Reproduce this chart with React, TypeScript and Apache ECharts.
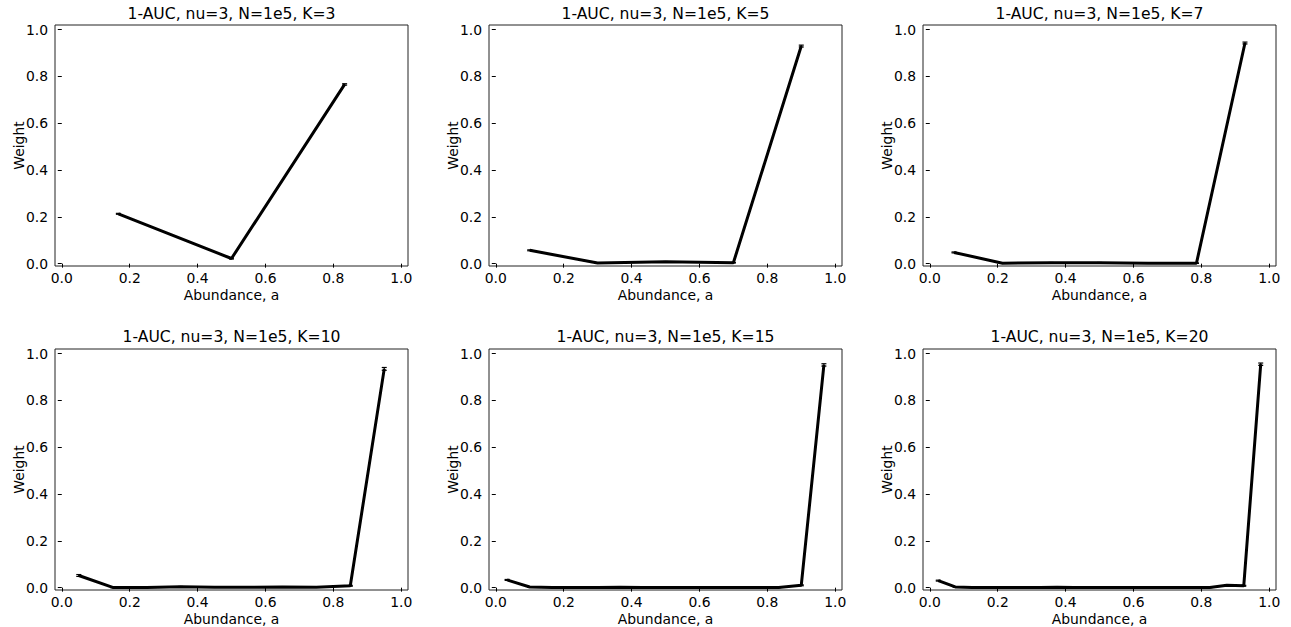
import React, { useEffect, useRef } from "react";
import * as echarts from "echarts";

const panelK = [3, 5, 7, 10, 15, 20];

const abund3 = [0.1667, 0.5, 0.8333];
const weight3 = [0.213, 0.022, 0.766];
const err3 = [0.002, 0.002, 0.003];

const abund5 = [0.1, 0.3, 0.5, 0.7, 0.9];
const weight5 = [0.057, 0.003, 0.008, 0.004, 0.93];
const err5 = [0.002, 0.001, 0.001, 0.001, 0.004];

const abund7 = [0.0714, 0.2143, 0.3571, 0.5, 0.6429, 0.7857, 0.9286];
const weight7 = [0.048, 0.002, 0.004, 0.004, 0.002, 0.002, 0.943];
const err7 = [0.002, 0.001, 0.001, 0.001, 0.001, 0.001, 0.004];

const abund10 = [0.05, 0.15, 0.25, 0.35, 0.45, 0.55, 0.65, 0.75, 0.85, 0.95];
const weight10 = [0.052, 0.001, 0.001, 0.004, 0.002, 0.002, 0.003, 0.002, 0.008, 0.935];
const err10 = [0.004, 0.001, 0.001, 0.001, 0.001, 0.001, 0.001, 0.001, 0.002, 0.006];

const abund15 = [0.0333, 0.1, 0.1667, 0.2333, 0.3, 0.3667, 0.4333, 0.5, 0.5667, 0.6333, 0.7, 0.7667, 0.8333, 0.9, 0.9667];
const weight15 = [0.033, 0.003, 0.001, 0.001, 0.001, 0.002, 0.001, 0.001, 0.001, 0.001, 0.001, 0.001, 0.001, 0.01, 0.952];
const err15 = [0.002, 0.001, 0.001, 0.001, 0.001, 0.001, 0.001, 0.001, 0.001, 0.001, 0.001, 0.001, 0.001, 0.002, 0.005];

const abund20 = [0.025, 0.075, 0.125, 0.175, 0.225, 0.275, 0.325, 0.375, 0.425, 0.475, 0.525, 0.575, 0.625, 0.675, 0.725, 0.775, 0.825, 0.875, 0.925, 0.975];
const weight20 = [0.03, 0.003, 0.001, 0.001, 0.001, 0.001, 0.001, 0.002, 0.001, 0.001, 0.001, 0.001, 0.001, 0.001, 0.001, 0.001, 0.001, 0.01, 0.008, 0.955];
const err20 = [0.002, 0.001, 0.001, 0.001, 0.001, 0.001, 0.001, 0.001, 0.001, 0.001, 0.001, 0.001, 0.001, 0.001, 0.001, 0.001, 0.001, 0.002, 0.002, 0.005];

const abundances = [abund3, abund5, abund7, abund10, abund15, abund20];
const weights = [weight3, weight5, weight7, weight10, weight15, weight20];
const errors = [err3, err5, err7, err10, err15, err20];

const tickValues = [0, 0.2, 0.4, 0.6, 0.8, 1.0];

const FONT = "DejaVu Sans";
const FS = 13.9;

export default function App() {
  const ref = useRef<HTMLDivElement>(null);
  useEffect(() => {
    if (!ref.current) return;
    const chart = echarts.init(ref.current, undefined, { renderer: "svg" });
    const lefts = [55, 489, 923];
    const tops = [25, 349];
    const gw = 353;
    const gh = 241;
    const grids: any[] = [];
    const xAxes: any[] = [];
    const yAxes: any[] = [];
    const series: any[] = [];
    const graphics: any[] = [];
    panelK.forEach((k, i) => {
      const col = i % 3;
      const row = Math.floor(i / 3);
      grids.push({
        left: lefts[col],
        top: tops[row],
        width: gw,
        height: gh,
        show: true,
        borderColor: "#222",
        borderWidth: 1,
        backgroundColor: "transparent",
      });
      xAxes.push({
        type: "value",
        gridIndex: i,
        min: -0.02,
        max: 1.02,
        name: "Abundance, a",
        nameLocation: "middle",
        nameGap: 22,
        nameMoveOverlap: false,
        nameTextStyle: { fontFamily: FONT, fontSize: FS, color: "#000" },
        axisLine: { show: false },
        splitLine: { show: false },
        axisTick: {
          show: true,
          length: 4,
          customValues: tickValues,
          lineStyle: { color: "#000", width: 1 },
        },
        axisLabel: {
          customValues: tickValues,
          margin: 5,
          fontFamily: FONT,
          fontSize: FS,
          color: "#000",
          formatter: (v: number) => v.toFixed(1),
        },
      });
      yAxes.push({
        type: "value",
        gridIndex: i,
        min: -0.01,
        max: 1.02,
        name: "Weight",
        nameLocation: "middle",
        nameGap: 29,
        nameRotate: 90,
        nameMoveOverlap: false,
        nameTextStyle: { fontFamily: FONT, fontSize: FS, color: "#000" },
        axisLine: { show: false },
        splitLine: { show: false },
        axisTick: {
          show: true,
          length: 4,
          customValues: tickValues,
          lineStyle: { color: "#000", width: 1 },
        },
        axisLabel: {
          customValues: tickValues,
          margin: 7,
          fontFamily: FONT,
          fontSize: FS,
          color: "#000",
          formatter: (v: number) => v.toFixed(1),
        },
      });
      const xs = abundances[i];
      const ys = weights[i];
      const es = errors[i];
      series.push({
        type: "line",
        xAxisIndex: i,
        yAxisIndex: i,
        data: xs.map((x, j) => [x, ys[j]]),
        showSymbol: false,
        symbol: "none",
        lineStyle: { color: "#000", width: 3 },
        itemStyle: { color: "#000" },
        z: 3,
      });
      series.push({
        type: "custom",
        xAxisIndex: i,
        yAxisIndex: i,
        data: xs.map((x, j) => [x, ys[j] - es[j], ys[j] + es[j]]),
        renderItem: (params: any, api: any) => {
          const x = api.value(0);
          const p1 = api.coord([x, api.value(1)]);
          const p2 = api.coord([x, api.value(2)]);
          const cap = 2.5;
          const st = { stroke: "#000", lineWidth: 1.2 };
          return {
            type: "group",
            children: [
              { type: "line", shape: { x1: p1[0], y1: p1[1], x2: p2[0], y2: p2[1] }, style: st },
              { type: "line", shape: { x1: p1[0] - cap, y1: p1[1], x2: p1[0] + cap, y2: p1[1] }, style: st },
              { type: "line", shape: { x1: p2[0] - cap, y1: p2[1], x2: p2[0] + cap, y2: p2[1] }, style: st },
            ],
          };
        },
        z: 4,
      });
      graphics.push({
        type: "text",
        x: lefts[col] + gw / 2,
        y: row === 0 ? 14 : 337,
        style: {
          text: `1-AUC, nu=3, N=1e5, K=${k}`,
          align: "center",
          verticalAlign: "middle",
          fontFamily: FONT,
          fontSize: 15.6,
          fill: "#000",
        },
      });
    });
    chart.setOption({
      animation: false,
      backgroundColor: "#fff",
      grid: grids,
      xAxis: xAxes,
      yAxis: yAxes,
      series,
      graphic: graphics,
    });
    return () => chart.dispose();
  }, []);
  return (
    <div
      ref={ref}
      style={{ position: "fixed", left: 0, top: 0, width: 1291, height: 627 }}
    />
  );
}
